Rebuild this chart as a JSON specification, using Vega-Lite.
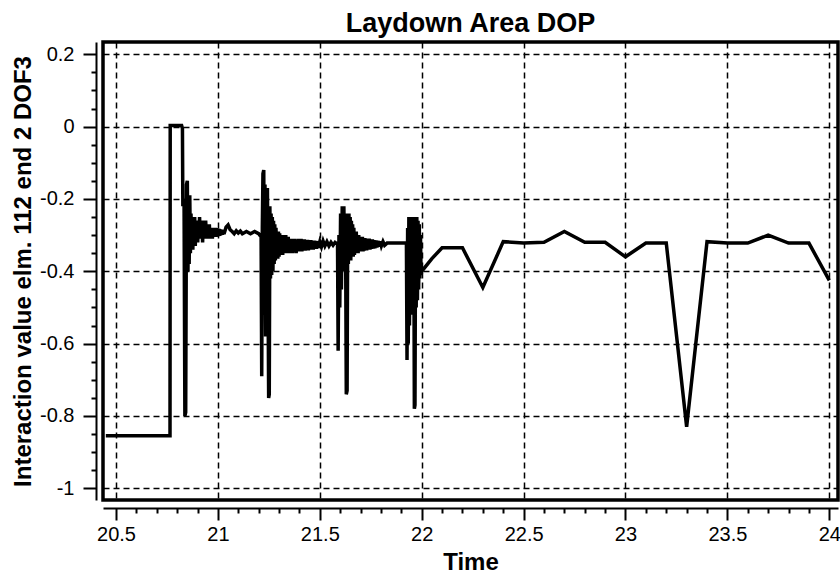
{
  "$schema": "https://vega.github.io/schema/vega-lite/v6.json",
  "width": 735,
  "height": 458,
  "autosize": {"type": "none"},
  "padding": {"left": 103, "top": 42, "right": 2, "bottom": 73},
  "background": "white",
  "title": {"text": "Laydown Area DOP", "fontSize": 27, "font": "Liberation Sans", "fontWeight": "bold", "color": "black", "offset": 4},
  "config": {"view": {"stroke": "black", "strokeWidth": 3.5}, "font": "Liberation Sans"},
  "data": {"values": [
    {"t":20.45,"v":-0.855},{"t":20.765,"v":-0.855},{"t":20.766,"v":0.003},{"t":20.822,"v":0.003},
    {"t":20.826,"v":-0.005},{"t":20.828,"v":-0.22},{"t":20.831,"v":-0.2},{"t":20.834,"v":-0.21},
    {"t":20.838,"v":-0.8},{"t":20.842,"v":-0.79},{"t":20.846,"v":-0.16},{"t":20.85,"v":-0.15},
    {"t":20.853,"v":-0.4},{"t":20.856,"v":-0.22},{"t":20.859,"v":-0.38},{"t":20.862,"v":-0.19},
    {"t":20.865,"v":-0.35},{"t":20.868,"v":-0.24},{"t":20.871,"v":-0.33},{"t":20.874,"v":-0.25},
    {"t":20.877,"v":-0.34},{"t":20.88,"v":-0.26},{"t":20.883,"v":-0.32},{"t":20.886,"v":-0.25},
    {"t":20.889,"v":-0.33},{"t":20.892,"v":-0.26},{"t":20.895,"v":-0.31},{"t":20.898,"v":-0.27},
    {"t":20.901,"v":-0.32},{"t":20.904,"v":-0.26},{"t":20.907,"v":-0.31},{"t":20.91,"v":-0.25},
    {"t":20.913,"v":-0.3},{"t":20.916,"v":-0.26},{"t":20.919,"v":-0.31},{"t":20.922,"v":-0.27},
    {"t":20.925,"v":-0.32},{"t":20.928,"v":-0.26},{"t":20.931,"v":-0.3},{"t":20.934,"v":-0.27},
    {"t":20.937,"v":-0.31},{"t":20.94,"v":-0.26},{"t":20.943,"v":-0.3},{"t":20.946,"v":-0.27},
    {"t":20.949,"v":-0.31},{"t":20.952,"v":-0.28},{"t":20.955,"v":-0.3},{"t":20.958,"v":-0.27},
    {"t":20.961,"v":-0.31},{"t":20.964,"v":-0.28},{"t":20.967,"v":-0.3},{"t":20.97,"v":-0.28},
    {"t":20.973,"v":-0.31},{"t":20.976,"v":-0.28},{"t":20.979,"v":-0.305},{"t":20.982,"v":-0.28},
    {"t":20.985,"v":-0.305},{"t":20.988,"v":-0.28},{"t":20.991,"v":-0.305},{"t":20.994,"v":-0.281},
    {"t":20.997,"v":-0.304},{"t":21.0,"v":-0.282},{"t":21.003,"v":-0.303},{"t":21.006,"v":-0.283},
    {"t":21.009,"v":-0.302},{"t":21.012,"v":-0.284},{"t":21.015,"v":-0.3},{"t":21.018,"v":-0.285},
    {"t":21.022,"v":-0.299},{"t":21.026,"v":-0.286},{"t":21.03,"v":-0.297},{"t":21.04,"v":-0.278},
    {"t":21.05,"v":-0.272},{"t":21.06,"v":-0.285},{"t":21.07,"v":-0.29},{"t":21.08,"v":-0.296},
    {"t":21.09,"v":-0.288},{"t":21.1,"v":-0.294},{"t":21.11,"v":-0.289},{"t":21.12,"v":-0.296},
    {"t":21.14,"v":-0.29},{"t":21.16,"v":-0.296},{"t":21.18,"v":-0.29},{"t":21.2,"v":-0.296},
    {"t":21.212,"v":-0.305},
    {"t":21.215,"v":-0.69},{"t":21.218,"v":-0.28},{"t":21.221,"v":-0.13},{"t":21.225,"v":-0.12},
    {"t":21.228,"v":-0.52},{"t":21.231,"v":-0.16},{"t":21.234,"v":-0.58},{"t":21.237,"v":-0.19},
    {"t":21.24,"v":-0.47},{"t":21.243,"v":-0.17},{"t":21.246,"v":-0.45},{"t":21.249,"v":-0.75},
    {"t":21.252,"v":-0.74},{"t":21.255,"v":-0.22},{"t":21.258,"v":-0.42},{"t":21.261,"v":-0.24},
    {"t":21.264,"v":-0.41},{"t":21.267,"v":-0.25},{"t":21.27,"v":-0.4},{"t":21.273,"v":-0.26},
    {"t":21.276,"v":-0.38},{"t":21.279,"v":-0.27},{"t":21.282,"v":-0.37},{"t":21.285,"v":-0.28},
    {"t":21.288,"v":-0.36},{"t":21.291,"v":-0.29},{"t":21.294,"v":-0.365},{"t":21.297,"v":-0.29},
    {"t":21.3,"v":-0.36},{"t":21.303,"v":-0.295},{"t":21.306,"v":-0.355},{"t":21.309,"v":-0.3},
    {"t":21.312,"v":-0.35},{"t":21.315,"v":-0.3},{"t":21.318,"v":-0.355},{"t":21.321,"v":-0.3},
    {"t":21.324,"v":-0.35},{"t":21.327,"v":-0.305},{"t":21.33,"v":-0.35},{"t":21.333,"v":-0.3},
    {"t":21.336,"v":-0.35},{"t":21.339,"v":-0.31},{"t":21.342,"v":-0.35},{"t":21.345,"v":-0.305},
    {"t":21.348,"v":-0.345},{"t":21.351,"v":-0.31},{"t":21.354,"v":-0.35},{"t":21.357,"v":-0.31},
    {"t":21.36,"v":-0.345},{"t":21.363,"v":-0.31},{"t":21.366,"v":-0.35},{"t":21.369,"v":-0.315},
    {"t":21.372,"v":-0.345},{"t":21.375,"v":-0.31},{"t":21.378,"v":-0.345},{"t":21.381,"v":-0.315},
    {"t":21.384,"v":-0.35},{"t":21.387,"v":-0.315},{"t":21.39,"v":-0.345},{"t":21.393,"v":-0.31},
    {"t":21.396,"v":-0.345},{"t":21.4,"v":-0.31},{"t":21.404,"v":-0.345},{"t":21.408,"v":-0.31},
    {"t":21.412,"v":-0.345},{"t":21.416,"v":-0.312},{"t":21.42,"v":-0.343},{"t":21.424,"v":-0.312},
    {"t":21.428,"v":-0.343},{"t":21.432,"v":-0.313},{"t":21.436,"v":-0.342},{"t":21.44,"v":-0.313},
    {"t":21.444,"v":-0.342},{"t":21.448,"v":-0.314},{"t":21.452,"v":-0.34},{"t":21.456,"v":-0.314},
    {"t":21.46,"v":-0.34},{"t":21.464,"v":-0.315},{"t":21.468,"v":-0.34},{"t":21.472,"v":-0.315},
    {"t":21.476,"v":-0.338},{"t":21.48,"v":-0.316},{"t":21.484,"v":-0.338},{"t":21.488,"v":-0.317},
    {"t":21.492,"v":-0.335},{"t":21.5,"v":-0.318},{"t":21.508,"v":-0.332},{"t":21.516,"v":-0.316},
    {"t":21.525,"v":-0.33},{"t":21.535,"v":-0.318},{"t":21.545,"v":-0.33},{"t":21.555,"v":-0.32},
    {"t":21.565,"v":-0.328},{"t":21.575,"v":-0.32},{"t":21.587,"v":-0.325},
    {"t":21.59,"v":-0.62},{"t":21.594,"v":-0.3},{"t":21.598,"v":-0.5},{"t":21.602,"v":-0.24},
    {"t":21.606,"v":-0.45},{"t":21.61,"v":-0.22},{"t":21.614,"v":-0.4},{"t":21.618,"v":-0.22},
    {"t":21.622,"v":-0.38},{"t":21.626,"v":-0.24},{"t":21.63,"v":-0.74},{"t":21.634,"v":-0.73},
    {"t":21.637,"v":-0.24},{"t":21.64,"v":-0.38},{"t":21.643,"v":-0.24},{"t":21.646,"v":-0.37},
    {"t":21.649,"v":-0.25},{"t":21.652,"v":-0.37},{"t":21.655,"v":-0.26},{"t":21.658,"v":-0.36},
    {"t":21.661,"v":-0.27},{"t":21.664,"v":-0.36},{"t":21.667,"v":-0.28},{"t":21.67,"v":-0.355},
    {"t":21.673,"v":-0.29},{"t":21.676,"v":-0.35},{"t":21.679,"v":-0.29},{"t":21.682,"v":-0.35},
    {"t":21.685,"v":-0.3},{"t":21.688,"v":-0.35},{"t":21.691,"v":-0.3},{"t":21.694,"v":-0.345},
    {"t":21.697,"v":-0.305},{"t":21.7,"v":-0.345},{"t":21.703,"v":-0.305},{"t":21.706,"v":-0.345},
    {"t":21.709,"v":-0.305},{"t":21.712,"v":-0.345},{"t":21.715,"v":-0.308},{"t":21.718,"v":-0.343},
    {"t":21.721,"v":-0.308},{"t":21.724,"v":-0.342},{"t":21.727,"v":-0.31},{"t":21.73,"v":-0.342},
    {"t":21.734,"v":-0.31},{"t":21.738,"v":-0.34},{"t":21.742,"v":-0.31},{"t":21.746,"v":-0.34},
    {"t":21.75,"v":-0.312},{"t":21.754,"v":-0.338},{"t":21.758,"v":-0.312},{"t":21.762,"v":-0.337},
    {"t":21.766,"v":-0.314},{"t":21.77,"v":-0.336},{"t":21.775,"v":-0.315},{"t":21.78,"v":-0.334},
    {"t":21.785,"v":-0.316},{"t":21.79,"v":-0.332},{"t":21.796,"v":-0.317},{"t":21.802,"v":-0.33},
    {"t":21.81,"v":-0.318},{"t":21.818,"v":-0.328},{"t":21.83,"v":-0.322},{"t":21.86,"v":-0.322},
    {"t":21.9,"v":-0.322},{"t":21.925,"v":-0.322},
    {"t":21.928,"v":-0.645},{"t":21.931,"v":-0.28},{"t":21.934,"v":-0.6},{"t":21.937,"v":-0.25},
    {"t":21.94,"v":-0.55},{"t":21.943,"v":-0.25},{"t":21.946,"v":-0.52},{"t":21.949,"v":-0.25},
    {"t":21.952,"v":-0.5},{"t":21.955,"v":-0.25},{"t":21.958,"v":-0.48},{"t":21.961,"v":-0.25},
    {"t":21.964,"v":-0.78},{"t":21.967,"v":-0.77},{"t":21.97,"v":-0.26},{"t":21.973,"v":-0.5},
    {"t":21.976,"v":-0.25},{"t":21.979,"v":-0.48},{"t":21.982,"v":-0.26},{"t":21.985,"v":-0.45},
    {"t":21.988,"v":-0.27},{"t":21.991,"v":-0.42},{"t":21.994,"v":-0.3},{"t":21.997,"v":-0.41},
    {"t":22.0,"v":-0.4},{"t":22.05,"v":-0.365},{"t":22.1,"v":-0.335},{"t":22.2,"v":-0.335},
    {"t":22.3,"v":-0.445},{"t":22.4,"v":-0.318},{"t":22.5,"v":-0.322},{"t":22.6,"v":-0.32},
    {"t":22.7,"v":-0.29},{"t":22.8,"v":-0.32},{"t":22.9,"v":-0.32},{"t":23.0,"v":-0.36},
    {"t":23.1,"v":-0.322},{"t":23.2,"v":-0.322},{"t":23.3,"v":-0.83},{"t":23.4,"v":-0.318},
    {"t":23.5,"v":-0.322},{"t":23.6,"v":-0.322},{"t":23.7,"v":-0.3},{"t":23.8,"v":-0.322},
    {"t":23.9,"v":-0.322},{"t":24.0,"v":-0.425}
  ]},
  "layer": [
    {
      "mark": {"type": "line", "color": "black", "strokeWidth": 3.5},
      "encoding": {
        "x": {
          "field": "t", "type": "quantitative",
          "scale": {"domain": [20.4362, 24.0427], "nice": false, "zero": false},
          "axis": {
            "orient": "bottom", "offset": 8,
            "values": [20.5, 21, 21.5, 22, 22.5, 23, 23.5, 24],
            "labelExpr": "'' + datum.value",
            "labelFontSize": 20, "labelColor": "black", "labelFont": "Liberation Sans",
            "labelPadding": 4, "labelOverlap": false, "labelFlush": false,
            "tickSize": 12, "tickWidth": 2, "tickColor": "black",
            "domainColor": "black", "domainWidth": 2,
            "grid": true, "gridColor": "black", "gridDash": [6, 4], "gridWidth": 1.5, "gridOpacity": 1,
            "title": "Time", "titleFontSize": 24, "titleFontWeight": "bold", "titleColor": "black",
            "titleFont": "Liberation Sans", "titlePadding": 6
          }
        },
        "y": {
          "field": "v", "type": "quantitative",
          "scale": {"domain": [-1.0324, 0.234], "nice": false, "zero": false},
          "axis": {
            "orient": "left", "offset": 7,
            "values": [-1, -0.8, -0.6, -0.4, -0.2, 0, 0.2],
            "labelExpr": "'' + datum.value",
            "labelFontSize": 20, "labelColor": "black", "labelFont": "Liberation Sans",
            "labelPadding": 9, "labelOverlap": false, "labelFlush": false,
            "tickSize": 13, "tickWidth": 2, "tickColor": "black",
            "domainColor": "black", "domainWidth": 2,
            "grid": true, "gridColor": "black", "gridDash": [6, 4], "gridWidth": 1.5, "gridOpacity": 1,
            "title": "Interaction value elm. 112 end 2 DOF3", "titleFontSize": 24, "titleFontWeight": "bold",
            "titleColor": "black", "titleFont": "Liberation Sans", "titlePadding": 4
          }
        }
      }
    },
    {
      "mark": {"type": "line", "opacity": 0},
      "encoding": {
        "x": {
          "field": "t", "type": "quantitative",
          "axis": {
            "orient": "bottom", "offset": 8,
            "values": [20.6, 20.7, 20.8, 20.9, 21.1, 21.2, 21.3, 21.4, 21.6, 21.7, 21.8, 21.9, 22.1, 22.2, 22.3, 22.4, 22.6, 22.7, 22.8, 22.9, 23.1, 23.2, 23.3, 23.4, 23.6, 23.7, 23.8, 23.9],
            "labels": false, "grid": false, "domain": false,
            "tickSize": 5, "tickWidth": 2, "tickColor": "black", "title": null
          }
        },
        "y": {
          "field": "v", "type": "quantitative",
          "axis": {
            "orient": "left", "offset": 7,
            "values": [-0.95, -0.9, -0.85, -0.75, -0.7, -0.65, -0.55, -0.5, -0.45, -0.35, -0.3, -0.25, -0.15, -0.1, -0.05, 0.05, 0.1, 0.15],
            "labels": false, "grid": false, "domain": false,
            "tickSize": 5, "tickWidth": 2, "tickColor": "black", "title": null
          }
        }
      }
    }
  ],
  "resolve": {"axis": {"x": "independent", "y": "independent"}}
}
